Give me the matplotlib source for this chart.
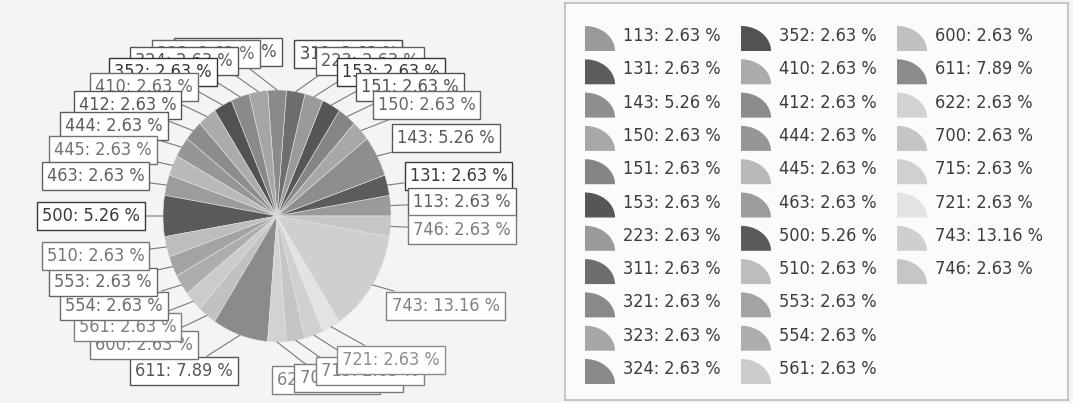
import numpy as np
import matplotlib
matplotlib.use("Agg")
import matplotlib.pyplot as plt
import matplotlib.patches as patches
from matplotlib.font_manager import FontProperties

# data: counts out of 38 records
codes = ["113", "131", "143", "150", "151", "153", "223", "311", "321", "323",
         "324", "352", "410", "412", "444", "445", "463", "500", "510", "553",
         "554", "561", "600", "611", "622", "700", "715", "721", "743", "746"]
counts = [1, 1, 2, 1, 1, 1, 1, 1, 1, 1,
          1, 1, 1, 1, 1, 1, 1, 2, 1, 1,
          1, 1, 1, 3, 1, 1, 1, 1, 5, 1]
grays = ["#9a9a9a", "#5c5c5c", "#8e8e8e", "#a8a8a8", "#858585", "#565656",
         "#9a9a9a", "#6e6e6e", "#8a8a8a", "#a6a6a6", "#8a8a8a", "#525252",
         "#ababab", "#8c8c8c", "#969696", "#b9b9b9", "#9c9c9c", "#5a5a5a",
         "#bdbdbd", "#a3a3a3", "#adadad", "#cbcbcb", "#c1c1c1", "#8b8b8b",
         "#d2d2d2", "#c5c5c5", "#d0d0d0", "#e3e3e3", "#cfcfcf", "#c6c6c6"]

total = sum(counts)
pcts = [100.0 * c / total for c in counts]
labels = ["{0}: {1:.2f} %".format(c, p) for c, p in zip(codes, pcts)]

W, H = 1073, 403
BG = "#f4f4f2"
FONT = dict(family="DejaVu Sans", stretch="condensed", size=13)


def darker(hexcol, f):
    r, g, b = matplotlib.colors.to_rgb(hexcol)
    return (r * f, g * f, b * f)


fig = plt.figure(figsize=(W / 100, H / 100), dpi=100, facecolor=BG)

# pie panel, pie centre at (277, 216) px, radii 114 x 126 px
cx, cy, rx, ry = 277, 216, 114, 126
ax = fig.add_axes([0, 0, 540 / W, 1])
ax.set_facecolor(BG)
wedges, _ = ax.pie(counts, colors=grays, startangle=0, counterclock=True,
                   wedgeprops=dict(edgecolor="#e4e4e4", linewidth=0.4))
ax.set_aspect("auto")
ax.set_xlim(-cx / rx, (540 - cx) / rx)
ax.set_ylim(-(H - cy) / ry, cy / ry)
ax.axis("off")

for w, lab, g in zip(wedges, labels, grays):
    t = np.deg2rad((w.theta1 + w.theta2) / 2)
    c, s = np.cos(t), np.sin(t)
    tc = darker(g, 0.62)
    ax.annotate(lab, xy=(c, s), xytext=(1.2 * c, 1.3 * s),
                ha="left" if c > 0 else "right", va="center",
                color=tc, fontproperties=FontProperties(**FONT),
                zorder=5 + 3 * (1 - abs(s)),
                bbox=dict(boxstyle="square,pad=0.28", fc="white", ec=tc, lw=1),
                arrowprops=dict(arrowstyle="-", color="#7a7a7a", lw=0.8,
                                shrinkA=0, shrinkB=0))

# legend panel
lx0, ly0, lw_, lh = 565, 3, 503, 397
lax = fig.add_axes([lx0 / W, (H - ly0 - lh) / H, lw_ / W, lh / H])
lax.set_xlim(0, lw_)
lax.set_ylim(lh, 0)
lax.set_facecolor("#fbfbfa")
lax.set_xticks([])
lax.set_yticks([])
for sp in lax.spines.values():
    sp.set_color("#bcbcbc")
    sp.set_linewidth(1.2)

# quarter-ellipse glyph like the reference legend keys
arc = np.linspace(0, np.pi / 2, 30)
gw, gh = 30, 25
rows = 11
for i, (lab, g) in enumerate(zip(labels, grays)):
    col, row = i // rows, i % rows
    x = 20 + col * 156
    y = 32 + row * 33.3
    yb = y + 16
    pts = [(x, yb)] + [(x + gw * np.cos(a), yb - gh * np.sin(a)) for a in arc]
    lax.add_patch(patches.Polygon(pts, closed=True, fc=g, ec="none"))
    lax.text(x + 38, y + 1, lab, ha="left", va="center", color="#3c3c3c",
             fontproperties=FontProperties(**FONT))

plt.savefig("out.png", dpi=100, facecolor=BG)
